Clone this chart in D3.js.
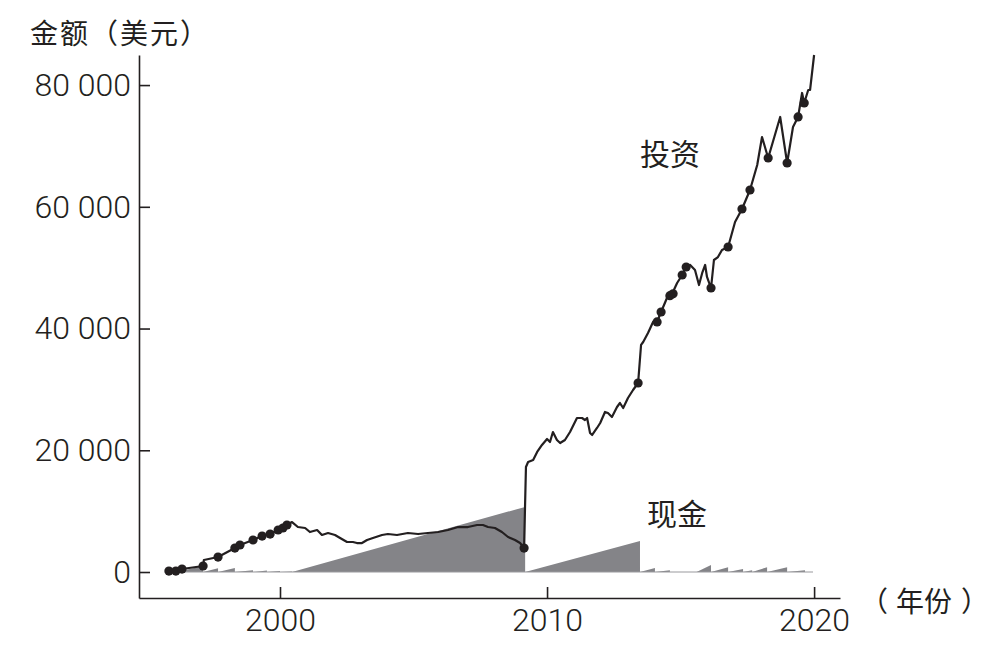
<!DOCTYPE html>
<html>
<head>
<meta charset="utf-8">
<script src="https://cdn.jsdelivr.net/npm/d3@7"></script>
<style>
  body { margin: 0; background: #fff; }
  svg { display: block; }
  .axis text { font-family: Roboto, "Liberation Sans", sans-serif; font-weight: 300; font-size: 32px; fill: #231f20; }
  .axis path, .axis line { stroke: #231f20; stroke-width: 1.6; }
  .label { font-family: "Noto Sans CJK SC", sans-serif; fill: #231f20; }
</style>
</head>
<body>
<figure id="chart" style="margin:0"></figure>
<script>
// investment value (美元) over time
var investYears = [1995.84, 1996.10, 1996.33, 1997.12, 1997.15, 1997.68, 1998.31, 1998.50, 1998.99, 1999.33,
    1999.63, 1999.93, 2000.11, 2000.26, 2000.45, 2000.67, 2000.94, 2001.12, 2001.39, 2001.57,
    2001.80, 2002.06, 2002.25, 2002.51, 2002.73, 2002.88, 2003.07, 2003.26, 2003.48, 2003.82,
    2004.04, 2004.38, 2004.79, 2005.17, 2005.54, 2005.92, 2006.29, 2006.67, 2007.04, 2007.38,
    2007.60, 2007.79, 2008.05, 2008.31, 2008.54, 2008.80, 2008.99, 2009.14, 2009.21, 2009.29,
    2009.48, 2009.63, 2009.81, 2010.00, 2010.11, 2010.22, 2010.37, 2010.49, 2010.67, 2010.86,
    2011.12, 2011.31, 2011.42, 2011.50, 2011.61, 2011.69, 2011.87, 2011.99, 2012.17, 2012.28,
    2012.43, 2012.62, 2012.73, 2012.85, 2013.03, 2013.22, 2013.41, 2013.52, 2013.60, 2013.78,
    2013.97, 2014.12, 2014.27, 2014.49, 2014.68, 2014.87, 2015.06, 2015.21, 2015.36, 2015.54,
    2015.69, 2015.81, 2015.92, 2015.99, 2016.14, 2016.25, 2016.40, 2016.55, 2016.78, 2017.04,
    2017.30, 2017.60, 2017.87, 2018.05, 2018.28, 2018.73, 2018.99, 2019.21, 2019.40, 2019.55,
    2019.63, 2019.78, 2019.85, 2020.00];
var investValues = [160, 160, 490, 990, 1970, 2460, 3940, 4440, 5260, 5910,
    6240, 6900, 7230, 7720, 8210, 7390, 7230, 6570, 6900, 6080,
    6410, 6080, 5590, 4930, 4930, 4760, 4760, 5260, 5590, 6080,
    6240, 6080, 6410, 6240, 6410, 6570, 6900, 7390, 7390, 7720,
    7720, 7390, 7230, 6570, 5750, 5260, 4760, 3940, 17250, 18070,
    18400, 19720, 20870, 21850, 21360, 23000, 21690, 21190, 21690, 23000,
    25300, 25300, 24970, 25300, 22840, 22510, 23660, 24480, 26290, 26120,
    25470, 27110, 27770, 26940, 28590, 29900, 31050, 37300, 37790, 39270,
    41080, 41080, 42720, 45020, 45680, 47480, 48800, 50110, 50440, 49620,
    47150, 49130, 50440, 48470, 46660, 51260, 51750, 52900, 53400, 57500,
    59640, 62760, 66870, 71470, 68020, 74760, 67200, 73110, 74760, 78700,
    77050, 79190, 79190, 84940];

// moments when cash was put in
var dotYears = [1995.84, 1996.10, 1996.33, 1997.12, 1997.68, 1998.31, 1998.50, 1998.99, 1999.33, 1999.63,
    1999.93, 2000.11, 2000.26, 2009.14, 2013.41, 2014.12, 2014.27, 2014.60, 2014.72, 2015.06,
    2015.21, 2016.14, 2016.78, 2017.30, 2017.60, 2018.28, 2018.99, 2019.40, 2019.63];
var dotValues = [160, 160, 490, 990, 2460, 3940, 4440, 5260, 5910, 6240,
    6900, 7230, 7720, 3940, 31050, 41080, 42720, 45400, 45700, 48800,
    50110, 46660, 53400, 59640, 62760, 68020, 67200, 74760, 77050];

// cash held (sawtooth)
var cashYears = [1995.84, 1996.33, 1997.12, 1997.12, 1997.68, 1997.68, 1998.31, 1998.31, 1998.99, 1998.99,
    1999.51, 1999.51, 2000.00, 2000.00, 2000.45, 2000.45, 2009.18, 2009.18, 2013.48, 2013.48,
    2014.04, 2014.04, 2014.60, 2014.60, 2015.60, 2016.14, 2016.14, 2016.78, 2016.78, 2017.34,
    2017.34, 2017.68, 2017.68, 2018.24, 2018.24, 2018.99, 2018.99, 2019.66, 2019.66, 2019.96];
var cashValues = [0, 200, 1000, 0, 600, 0, 650, 0, 300, 0,
    250, 0, 150, 0, 100, 0, 10700, 0, 5100, 0,
    650, 0, 300, 0, 0, 1150, 0, 800, 0, 500,
    0, 300, 0, 800, 0, 800, 0, 300, 0, 0];

var yTicks = [0, 20000, 40000, 60000, 80000];
var xTicks = [2000, 2010, 2020];

var width = 993, height = 650;

var svg = d3.select("figure#chart")
    .append("svg")
    .attr("width", width)
    .attr("height", height);

var xScale = d3.scaleLinear()
    .domain([1994.72, 2020.97])
    .range([139, 840]);

var yScale = d3.scaleLinear()
    .domain([-4270, 84940])
    .range([598, 55]);

var invest = investYears.map((d, i) => ({year: d, value: investValues[i]}));
var cash = cashYears.map((d, i) => ({year: d, value: cashValues[i]}));
var dots = dotYears.map((d, i) => ({year: d, value: dotValues[i]}));

// cash area
svg.append("path")
    .datum(cash)
    .attr("fill", "#848488")
    .attr("d", d3.area()
        .x(d => xScale(d.year))
        .y0(yScale(0))
        .y1(d => yScale(d.value)));

// thin grey baseline under the cash
svg.append("line")
    .attr("x1", xScale(cashYears[0]))
    .attr("x2", xScale(cashYears[cashYears.length - 1]))
    .attr("y1", yScale(0))
    .attr("y2", yScale(0))
    .attr("stroke", "#9a9a9e")
    .attr("stroke-width", 1.2);

// investment line
svg.append("path")
    .datum(invest)
    .attr("fill", "none")
    .attr("stroke", "#231f20")
    .attr("stroke-width", 2.2)
    .attr("stroke-linejoin", "round")
    .attr("d", d3.line()
        .x(d => xScale(d.year))
        .y(d => yScale(d.value)));

svg.selectAll("circle")
    .data(dots)
    .enter()
    .append("circle")
    .attr("cx", d => xScale(d.year))
    .attr("cy", d => yScale(d.value))
    .attr("r", 4.6)
    .attr("fill", "#231f20");

// axes, ticks pointing inward
var fmt = d => d3.format(",")(d).replace(/,/g, " ");

var yAxis = svg.append("g")
    .attr("class", "axis")
    .attr("transform", `translate(139, 0)`)
    .call(d3.axisLeft(yScale).tickValues(yTicks).tickFormat(fmt)
        .tickSizeInner(-11).tickSizeOuter(0).tickPadding(8));

var xAxis = svg.append("g")
    .attr("class", "axis")
    .attr("transform", `translate(0, 598)`)
    .call(d3.axisBottom(xScale).tickValues(xTicks).tickFormat(d3.format("d"))
        .tickSizeInner(-11).tickSizeOuter(0).tickPadding(10));

// labels
svg.append("text").attr("class", "label")
    .attr("x", 30).attr("y", 44)
    .attr("font-size", 28)
    .attr("letter-spacing", 2)
    .text("金额（美元）");

var yearLabel = svg.append("text").attr("class", "label")
    .attr("x", 860).attr("y", 612)
    .attr("font-size", 28);
yearLabel.append("tspan").text("（");
yearLabel.append("tspan").attr("dx", 8).text("年份");
yearLabel.append("tspan").attr("dx", 9).text("）");

svg.append("text").attr("class", "label")
    .attr("x", 640).attr("y", 165)
    .attr("font-size", 30)
    .text("投资");

svg.append("text").attr("class", "label")
    .attr("x", 647).attr("y", 525)
    .attr("font-size", 30)
    .text("现金");
</script>
</body>
</html>
